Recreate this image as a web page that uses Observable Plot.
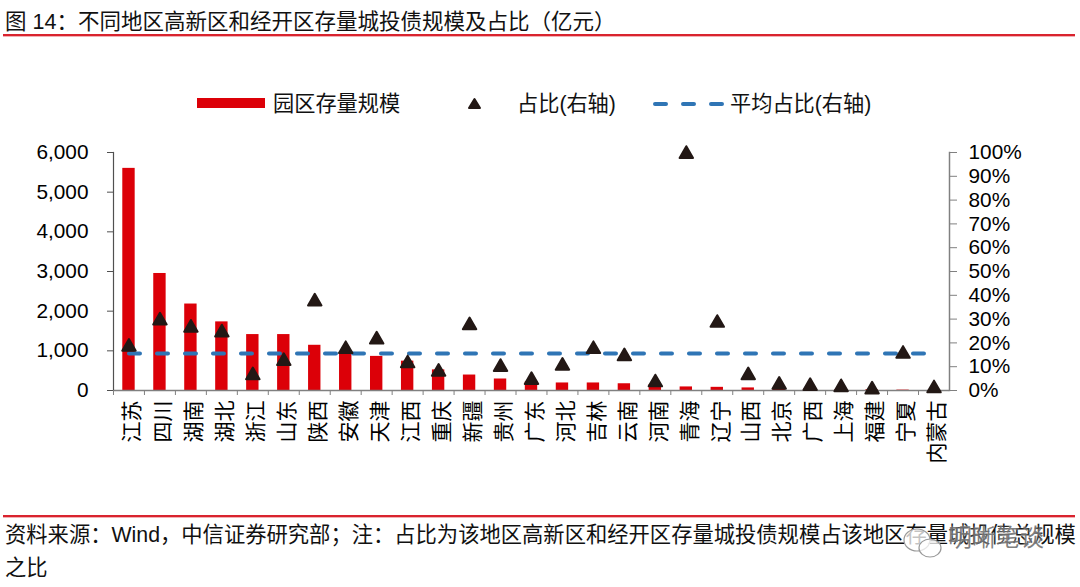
<!DOCTYPE html>
<html><head><meta charset="utf-8">
<script src="https://cdn.jsdelivr.net/npm/d3@7"></script>
<script src="https://cdn.jsdelivr.net/npm/@observablehq/plot@0.6"></script>
<style>
html,body{margin:0;padding:0;background:#fff;width:1080px;height:587px;overflow:hidden}
body{position:relative;font-family:"Liberation Sans","Noto Sans CJK SC",sans-serif;color:#111}
.a{position:absolute;white-space:nowrap}
.rule{position:absolute;left:3px;width:1072px;height:2px;background:#d9232e;box-shadow:0 1px 0 #f3b0b4}
#chart{position:absolute;left:0;top:130px}
.leg{font-size:21.2px;line-height:26px;top:91px}
</style></head><body>
<div class="a" id="title" style="left:5px;top:9px;font-size:21.5px;line-height:26px"></div>
<div class="rule" style="top:34px"></div>
<div class="a leg" id="l1" style="left:273px"></div>
<div class="a leg" id="l2" style="left:517px"></div>
<div class="a leg" id="l3" style="left:730px"></div>
<svg class="a" width="1080" height="120" style="left:0;top:0;pointer-events:none">
<rect x="197" y="98" width="68" height="10" fill="#dc0008"/>
<path d="M474.5 99 L480 108 L469 108 Z" fill="#231815" stroke="#231815" stroke-width="2" stroke-linejoin="round"/>
<path d="M655 104 H722" stroke="#2f75b5" stroke-width="4" stroke-linecap="round" stroke-dasharray="11 17"/>
</svg>
<div id="chart"></div>
<div class="rule" style="top:515px"></div>
<div class="a" id="cap1" style="left:5px;top:520px;font-size:21.3px;line-height:30px"></div>
<div class="a" id="cap2" style="left:5px;top:553px;font-size:21.3px;line-height:30px"></div>
<svg class="a" width="60" height="50" style="left:900px;top:520px">
<ellipse cx="17" cy="20" rx="13" ry="11" fill="rgba(255,255,255,.75)" stroke="#999" stroke-width="1.2"/>
<ellipse cx="30" cy="28" rx="11" ry="9" fill="rgba(255,255,255,.75)" stroke="#999" stroke-width="1.2"/>
</svg>
<div class="a" id="wm" style="left:948px;top:522px;font-size:24px;line-height:32px;color:rgba(105,105,105,.85);text-shadow:0 0 3px rgba(255,255,255,.8)"></div>
<script>
const titleText = "图 14：不同地区高新区和经开区存量城投债规模及占比（亿元）";
const legendLabels = ["园区存量规模", "占比(右轴)", "平均占比(右轴)"];
const captionLines = ["资料来源：Wind，中信证券研究部；注：占比为该地区高新区和经开区存量城投债规模占该地区存量城投债总规模", "之比"];
const watermark = "明晰笔谈";
const regions = ["江苏","四川","湖南","湖北","浙江","山东","陕西","安徽","天津","江西","重庆","新疆","贵州","广东","河北","吉林","云南","河南","青海","辽宁","山西","北京","广西","上海","福建","宁夏","内蒙古"];
const scaleValues = [5600,2950,2180,1730,1410,1410,1140,960,860,740,520,390,290,220,190,190,170,150,90,80,65,50,40,25,20,10,3];
const shareValues = [19,30,27,25,7,13,38,18,22,12,8.5,28,10.5,5,11,18,15,4,100,29,7,3,2.5,2,1,16,1.5];
const averageShare = 15.5;
const leftTicks = [0,1000,2000,3000,4000,5000,6000];
const rightTicks = [0,10,20,30,40,50,60,70,80,90,100];
const leftMax = 6000, rightMax = 100;
const toLeft = p => p * leftMax / rightMax;

document.getElementById("title").textContent = titleText;
["l1","l2","l3"].forEach((id,i)=>document.getElementById(id).textContent = legendLabels[i]);
document.getElementById("cap1").textContent = captionLines[0];
document.getElementById("cap2").textContent = captionLines[1];
document.getElementById("wm").textContent = watermark;

const rows = regions.map((r,i)=>({region:r,value:scaleValues[i],share:shareValues[i],avg:averageShare}));
const axisColor = "#808080";
const plot = Plot.plot({
  width:1080, height:350,
  marginLeft:113, marginRight:131, marginTop:22, marginBottom:90,
  style:{fontFamily:'"Liberation Sans","Noto Sans CJK SC",sans-serif',fontSize:"20.8px",color:"#000",background:"transparent",overflow:"visible"},
  x:{domain:regions,round:false,paddingInner:0.6,paddingOuter:0.3,label:null},
  y:{domain:[0,leftMax],label:null},
  marks:[
    Plot.barY(rows,{x:"region",y:"value",fill:"#dc0008"}),
    Plot.ruleY([0],{stroke:axisColor,strokeWidth:1.5}),
    Plot.frame({anchor:"left",stroke:"#505050",strokeWidth:1.2}),
    Plot.frame({anchor:"right",stroke:axisColor,strokeWidth:1.5}),
    Plot.axisY({ticks:leftTicks,tickFormat:d3.format(","),anchor:"left",tickSize:6,tickPadding:19,stroke:"#505050",label:null,fill:"#000"}),
    Plot.axisY(rightTicks.map(toLeft),{tickFormat:d=>Math.round(d*rightMax/leftMax)+"%",anchor:"right",tickSize:7,tickPadding:12,stroke:axisColor,fill:"#000",label:null}),
    Plot.axisX({anchor:"bottom",tickSize:5,tickFormat:()=>"",dx:-15.5,stroke:axisColor,label:null}),
    Plot.axisX({anchor:"bottom",tickSize:0,tickRotate:-90,tickPadding:10,dx:3.5,fill:"#000",label:null,fontSize:21}),
    Plot.lineY(rows,{x:"region",y:d=>toLeft(d.avg),stroke:"#2f75b5",strokeWidth:4,strokeLinecap:"round",strokeDasharray:"11 17"}),
    Plot.dot(rows,{x:"region",y:d=>toLeft(d.share),dy:1.5,symbol:"triangle",r:5,fill:"#231815",stroke:"#231815",strokeWidth:2,strokeLinejoin:"round"})
  ]
});
document.getElementById("chart").appendChild(plot);
</script>
</body></html>
